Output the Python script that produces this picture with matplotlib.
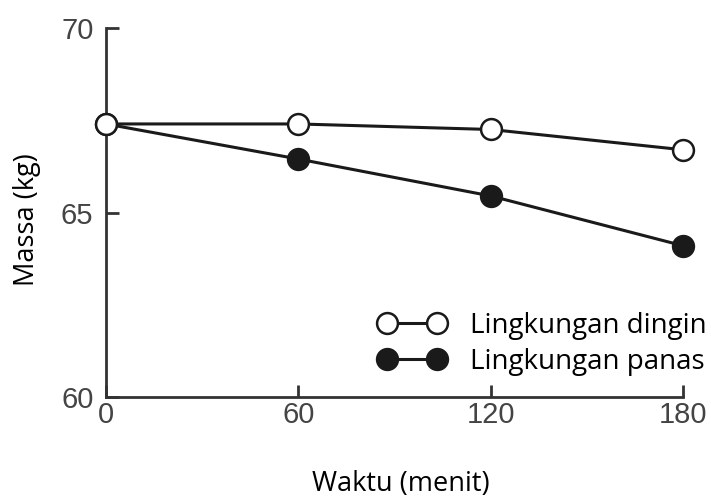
import matplotlib
matplotlib.use("Agg")
import matplotlib.pyplot as plt

# data
waktu = [0, 60, 120, 180]
dingin = [67.4, 67.4, 67.25, 66.7]
panas = [67.4, 66.45, 65.45, 64.1]
xticks = [0, 60, 120, 180]
yticks = [60, 65, 70]

fig = plt.figure(figsize=(7.11, 4.99), dpi=100)
ax = fig.add_axes([0.149, 0.204, 0.812, 0.740])

ax.plot(waktu, panas, color="#1a1a1a", lw=2.2, marker="o", ms=15,
        mfc="#1a1a1a", mec="#1a1a1a", mew=1.8, clip_on=False, zorder=3,
        label="Lingkungan panas")
ax.plot(waktu, dingin, color="#1a1a1a", lw=2.2, marker="o", ms=15,
        mfc="white", mec="#1a1a1a", mew=1.8, clip_on=False, zorder=4,
        label="Lingkungan dingin")

ax.set_xlim(0, 180)
ax.set_ylim(60, 70)
ax.set_xticks(xticks)
ax.set_yticks(yticks)
for s in ("top", "right"):
    ax.spines[s].set_visible(False)
for s in ("left", "bottom"):
    ax.spines[s].set_linewidth(2)
    ax.spines[s].set_color("#333333")
ax.tick_params(direction="in", length=9, width=2, color="#333333",
               labelsize=21, labelcolor="#444444")
ax.tick_params(axis="x", pad=3)
ax.tick_params(axis="y", pad=9)
for lab in ax.get_xticklabels() + ax.get_yticklabels():
    lab.set_family("Liberation Sans")

ax.set_xlabel("Waktu (menit)", fontsize=19.5, family="Open Sans")
ax.set_ylabel("Massa (kg)", fontsize=19.5, family="Open Sans")
ax.xaxis.set_label_coords(0.51, -0.198)
ax.yaxis.set_label_coords(-0.112, 0.482)

h, l = ax.get_legend_handles_labels()
ax.legend(h[::-1], l[::-1], loc="lower right", bbox_to_anchor=(1.084, -0.01),
          frameon=False, numpoints=2, handlelength=2.4, handletextpad=0.9,
          labelspacing=0.3, prop={"family": "Open Sans", "size": 20})

fig.savefig("out.png", dpi=100)
